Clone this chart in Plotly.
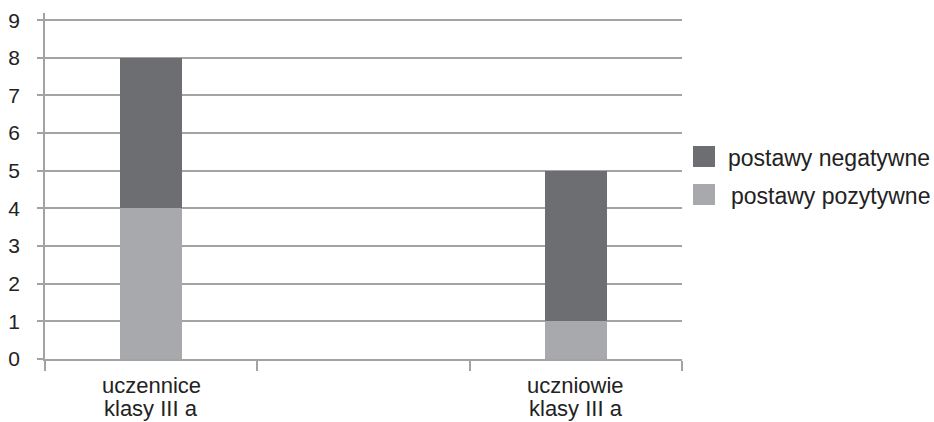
import plotly.graph_objects as go

# --- data ---------------------------------------------------------------
categories = ["uczennice\nklasy III a", " ", "uczniowie\nklasy III a"]
series_names = ["postawy pozytywne", "postawy negatywne"]
pozytywne = [4, None, 1]
negatywne = [4, None, 4]
y_ticks = [0, 1, 2, 3, 4, 5, 6, 7, 8, 9]

# --- styling ------------------------------------------------------------
W, H = 934, 422
ML, MR, MT, MB = 45, 252, 13, 63
FONT = dict(family="Liberation Sans, Arial, sans-serif", size=22, color="#222222")
LEG_FONT = dict(FONT, size=23)
TICK_FONT = dict(FONT, size=21)
COL_POS = "#a7a9ac"
COL_NEG = "#6d6e71"
GRID = "#a3a3a3"

fig = go.Figure()
fig.add_trace(go.Bar(x=categories, y=pozytywne, name=series_names[0],
                     marker=dict(color=COL_POS, line=dict(width=0)),
                     width=0.29, showlegend=False))
fig.add_trace(go.Bar(x=categories, y=negatywne, name=series_names[1],
                     marker=dict(color=COL_NEG, line=dict(width=0)),
                     width=0.29, showlegend=False))

# pixel -> paper helpers for the legend block and category labels
pw, ph = W - ML - MR, H - MT - MB
def px(x):
    return (x - ML) / pw
def py(y):
    return (H - MB - y) / ph

shapes, annotations = [], []

legend_items = [
    (series_names[1], COL_NEG, 146, 726),
    (series_names[0], COL_POS, 184, 729),
]
for name, col, top, tx in legend_items:
    shapes.append(dict(type="rect", xref="paper", yref="paper",
                       x0=px(693), x1=px(715), y0=py(top + 21), y1=py(top),
                       fillcolor=col, line=dict(width=0)))
    annotations.append(dict(text=name, xref="paper", yref="paper",
                            x=px(tx), y=py(top + 12), xanchor="left",
                            yanchor="middle", showarrow=False, font=LEG_FONT))

# two-line category labels under the x axis (tighter line spacing)
for cat in categories:
    for i, line in enumerate(cat.split("\n")):
        if not line.strip():
            continue
        annotations.append(dict(text=line, x=cat, xref="x", yref="paper",
                                y=py(385 + 23 * i), xanchor="center",
                                yanchor="middle", showarrow=False, font=FONT))

fig.update_layout(
    width=W, height=H,
    margin=dict(l=ML, r=MR, t=MT, b=MB, pad=0),
    barmode="stack",
    paper_bgcolor="white", plot_bgcolor="white",
    font=FONT,
    shapes=shapes, annotations=annotations,
    showlegend=False,
)
fig.update_xaxes(
    type="category", categoryorder="array", categoryarray=categories,
    range=[-0.5, 2.5], showticklabels=False, automargin=False,
    showline=True, linecolor=GRID, linewidth=1.5,
    ticks="outside", tickson="boundaries", ticklen=10, tickcolor=GRID,
    tickwidth=1.5, showgrid=False,
)
fig.update_yaxes(
    range=[0, 9.19], tickvals=y_ticks, automargin=False,
    showline=True, linecolor=GRID, linewidth=1.5,
    ticks="outside", ticklen=6, tickcolor=GRID, tickwidth=1.5,
    showgrid=True, gridcolor=GRID, gridwidth=1.5,
    zeroline=False, tickfont=TICK_FONT, ticklabelstandoff=13,
)

fig.write_html("out.html")
